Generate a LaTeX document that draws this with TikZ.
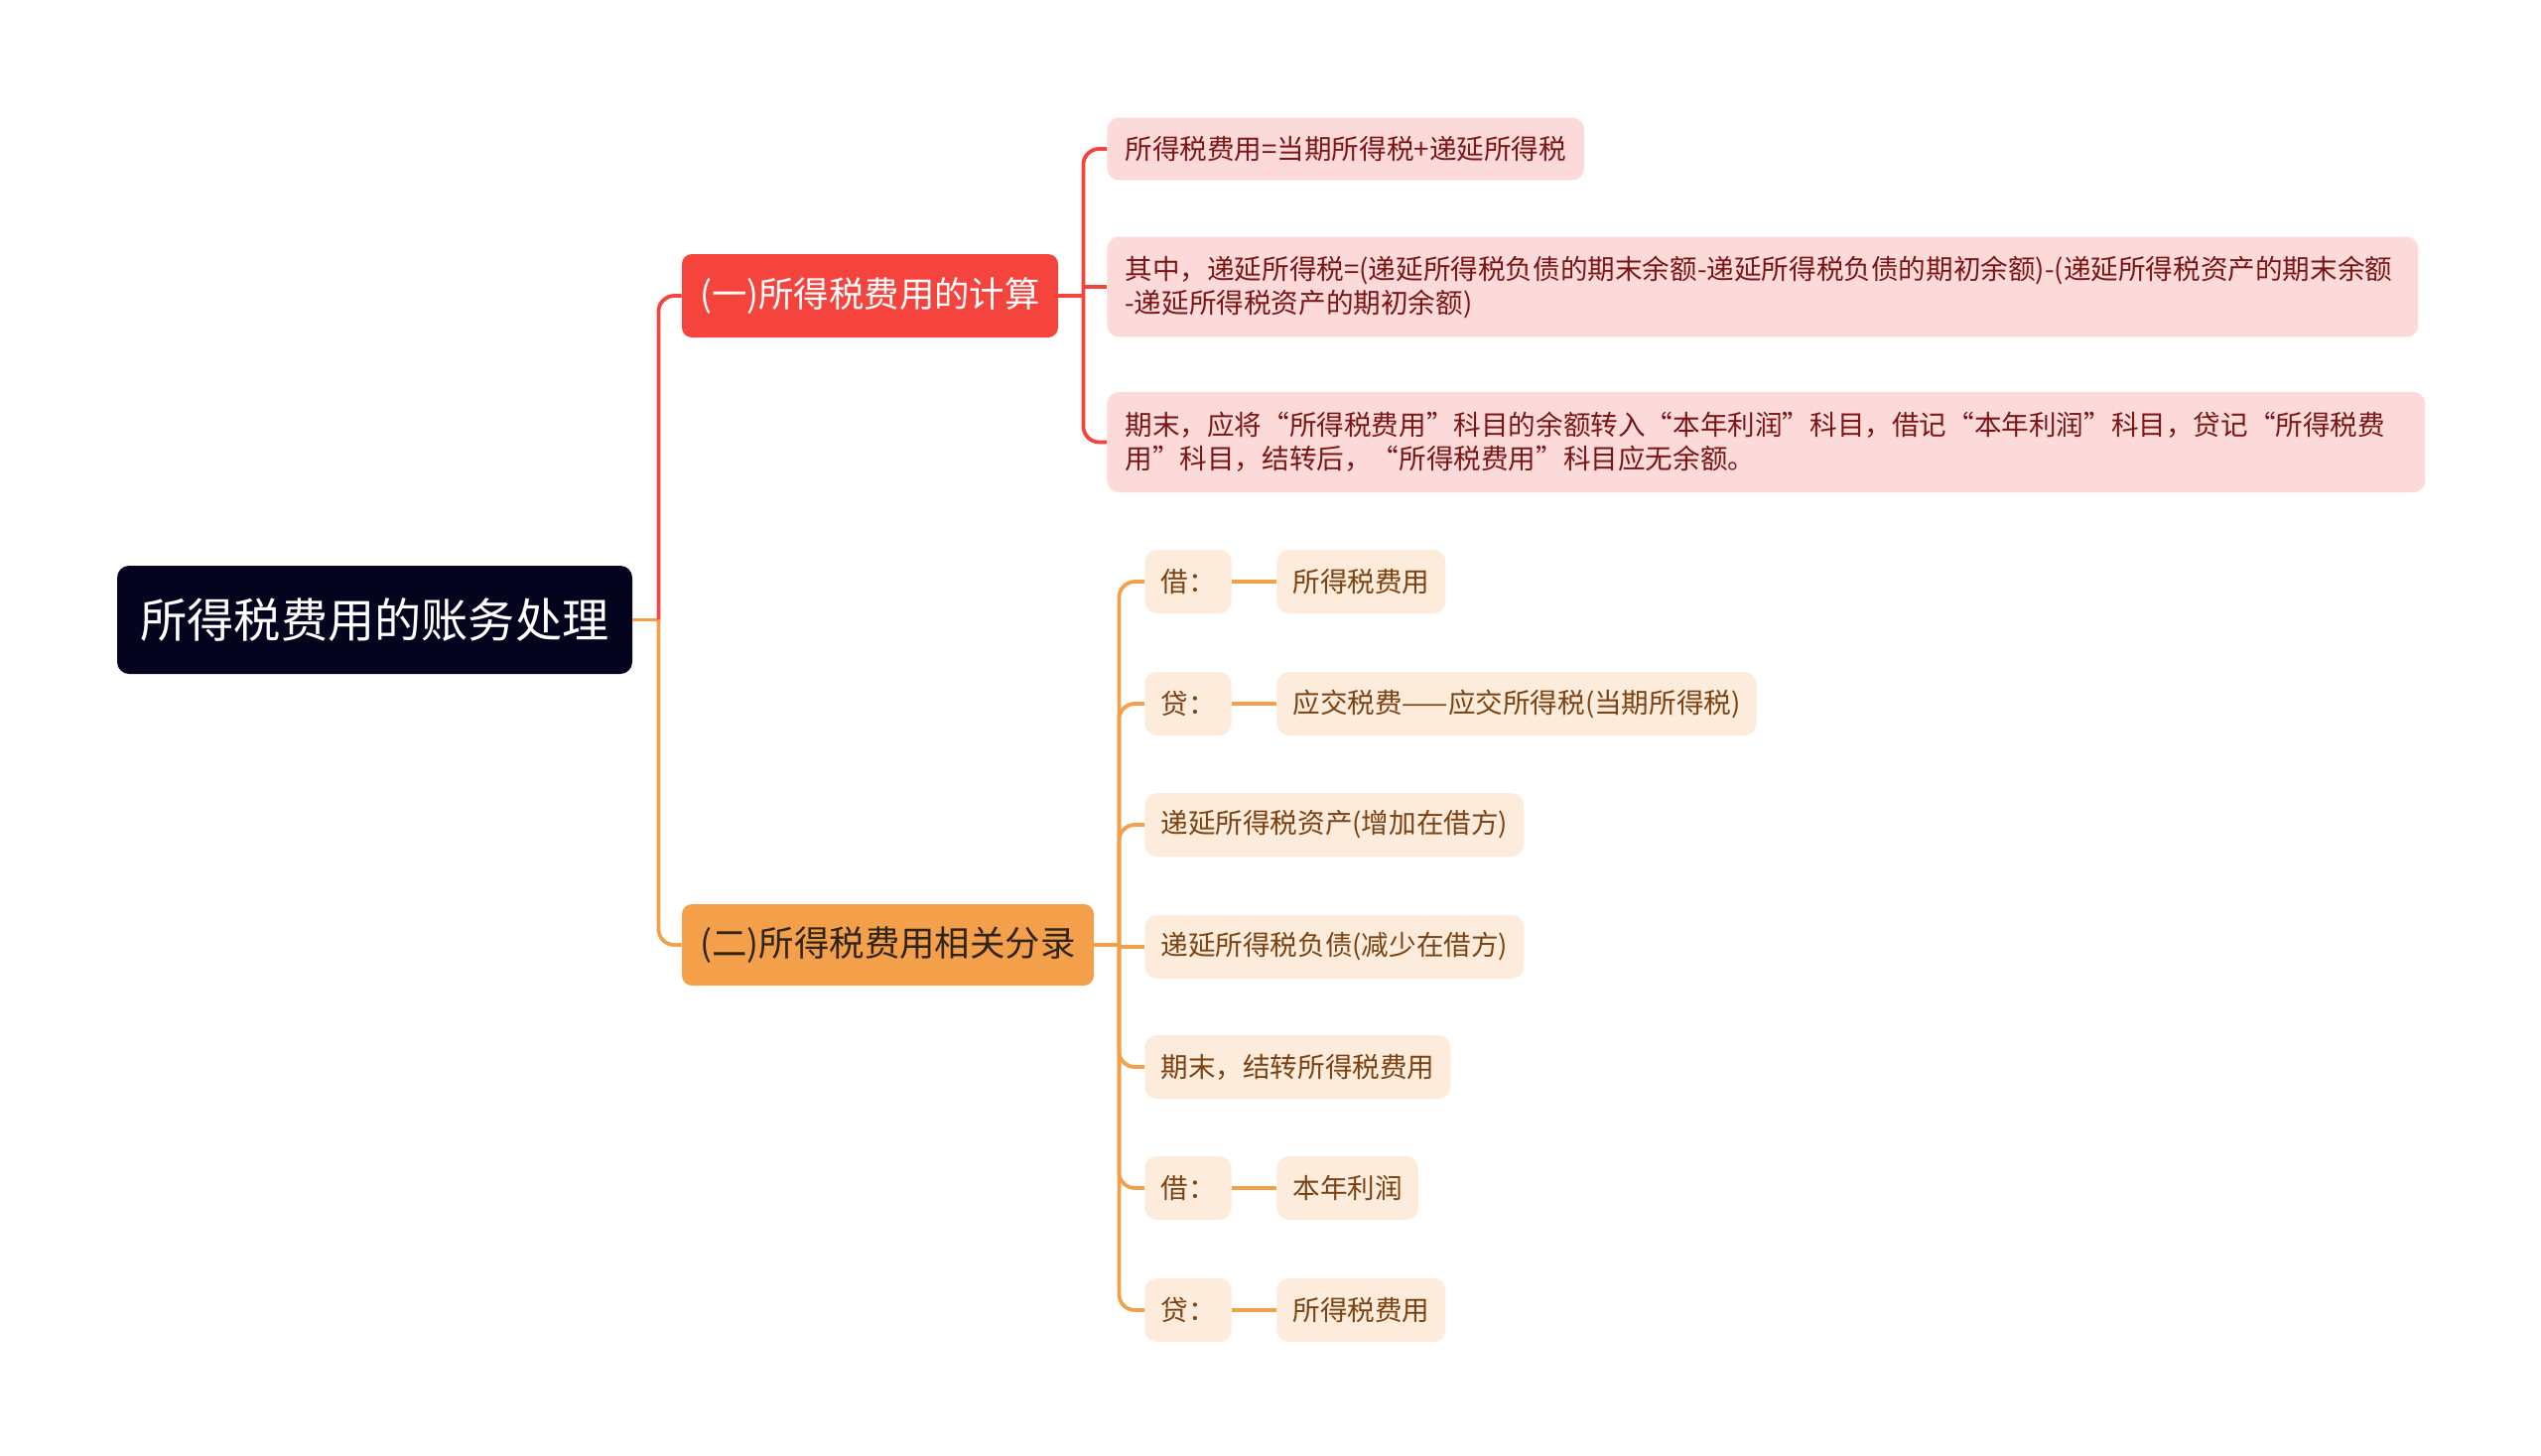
\documentclass[tikz,border=0pt]{standalone}
\usepackage{fontspec}
\newfontfamily\cjk{Noto Sans CJK SC}

\definecolor{rootblue}{HTML}{05041F}
\definecolor{calcred}{HTML}{F5443D}
\definecolor{entryorange}{HTML}{F4A04B}
\definecolor{pinkfill}{HTML}{FDDADA}
\definecolor{peachfill}{HTML}{FDEBDC}
\definecolor{pinktext}{HTML}{7A1616}
\definecolor{peachtext}{HTML}{7B4212}
\definecolor{darktext}{HTML}{2F2418}

\tikzset{
  topic/.style={rounded corners=6pt, fill=rootblue, text=white,
    font=\cjk\fontsize{23.6pt}{28pt}\selectfont,
    minimum width=259.5pt, minimum height=54.5pt},
  calcbranch/.style={rounded corners=5pt, fill=calcred, text=white,
    font=\cjk\fontsize{17.7pt}{21pt}\selectfont,
    minimum width=189.5pt, minimum height=42pt},
  entrybranch/.style={rounded corners=5pt, fill=entryorange, text=darktext,
    font=\cjk\fontsize{17.7pt}{21pt}\selectfont,
    minimum width=207.5pt, minimum height=41pt},
  calcleaf/.style={rounded corners=6pt, fill=pinkfill, text=pinktext,
    font=\cjk\fontsize{13.8pt}{17pt}\selectfont, align=left,
    inner xsep=9pt, minimum height=31.5pt, anchor=west},
  entryleaf/.style={rounded corners=6pt, fill=peachfill, text=peachtext,
    font=\cjk\fontsize{13.8pt}{17pt}\selectfont,
    inner xsep=8pt, minimum height=32pt, anchor=west},
  redline/.style={draw=calcred, line width=1.9pt},
  orline/.style={draw=entryorange, line width=1.9pt}
}

\begin{document}
\begin{tikzpicture}[x=0.5pt, y=-0.5pt]
  \useasboundingbox (0,0) rectangle (2560,1467);

  % root and the two branches
  \node[topic] (root) at (377.5,624.5) {所得税费用的账务处理};
  \node[calcbranch] (calc) at (876.5,298) {(一)所得税费用的计算};
  \node[entrybranch] (entry) at (894.5,952) {(二)所得税费用相关分录};

  \draw[orline] (root.east) -- ++(26,0) coordinate (rj);
  \draw[redline, rounded corners=8pt] (rj) |- (calc.west);
  \draw[orline, rounded corners=8pt] (rj) |- (entry.west);

  % (一) leaves
  \node[calcleaf] (f1) at (1115,150) {所得税费用=当期所得税+递延所得税};
  \node[calcleaf, text width=642.5pt, minimum height=50.5pt] (f2) at (1115,289)
    {其中，递延所得税=(递延所得税负债的期末余额-递延所得税负债的期初余额)-(递延所得税资产的期末余额\\-递延所得税资产的期初余额)};
  \node[calcleaf, text width=646pt, minimum height=50.5pt] (f3) at (1115,445.5)
    {期末，应将“所得税费用”科目的余额转入“本年利润”科目，借记“本年利润”科目，贷记“所得税费\\用”科目，结转后，“所得税费用”科目应无余额。};

  \draw[redline] (calc.east) -- ++(25,0) coordinate (cj);
  \foreach \n in {f1,f3}
    \draw[redline, rounded corners=8pt] (cj) |- (\n.west);
  \draw[redline] (cj |- f2.west) -- (f2.west);

  % (二) leaves
  \node[entryleaf] (e1) at (1153,586) {借：};
  \node[entryleaf] (e2) at (1153,709) {贷：};
  \node[entryleaf] (e3) at (1153,831) {递延所得税资产(增加在借方)};
  \node[entryleaf] (e4) at (1153,954) {递延所得税负债(减少在借方)};
  \node[entryleaf] (e5) at (1153,1075) {期末，结转所得税费用};
  \node[entryleaf] (e6) at (1153,1197) {借：};
  \node[entryleaf] (e7) at (1153,1320) {贷：};

  \node[entryleaf] (e1r) at (1286,586) {所得税费用};
  \node[entryleaf] (e2r) at (1286,709) {应交税费——应交所得税(当期所得税)};
  \node[entryleaf] (e6r) at (1286,1197) {本年利润};
  \node[entryleaf] (e7r) at (1286,1320) {所得税费用};

  \draw[orline] (entry.east) -- ++(25,0) coordinate (ej);
  \foreach \n in {e1,e2,e3,e5,e6,e7}
    \draw[orline, rounded corners=8pt] (ej) |- (\n.west);
  \draw[orline] (ej |- e4.west) -- (e4.west);

  \foreach \n in {e1,e2,e6,e7}
    \draw[orline] (\n.east) -- (\n r.west);
\end{tikzpicture}
\end{document}
